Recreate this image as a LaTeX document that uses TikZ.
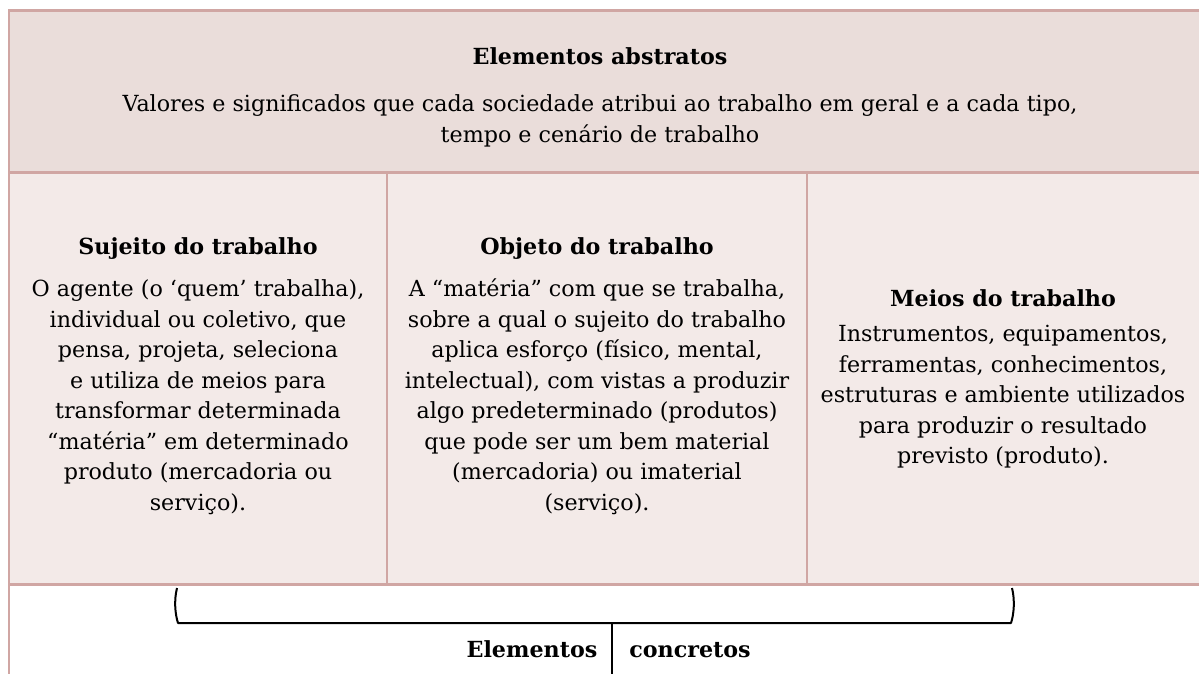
\documentclass[tikz,border=0pt]{standalone}
\usepackage{fontspec}
\setmainfont{DejaVu Serif}
\definecolor{hdrfill}{RGB}{234,221,218}
\definecolor{rowfill}{RGB}{243,234,232}
\definecolor{rose}{RGB}{208,166,163}
\begin{document}
\begin{tikzpicture}[x=1pt,y=-1pt,
  txt/.style={inner sep=0pt,align=center,font=\fontsize{22.2}{30.5}\selectfont},
  ttl/.style={inner sep=0pt,align=center,font=\fontsize{22.2}{30.5}\selectfont\bfseries},
  hline/.style={draw=rose,line width=3pt},
  vline/.style={draw=rose,line width=2pt}]
\useasboundingbox (0,0) rectangle (1199,674);
\fill[white] (0,0) rectangle (1199,674);
% fills
\fill[hdrfill] (9,11) rectangle (1199,172);
\fill[rowfill] (9,172) rectangle (1199,584);
% borders
\draw[vline] (9,10) -- (9,674);
\draw[vline] (387,172) -- (387,584);
\draw[vline] (807,172) -- (807,584);
\draw[hline] (8,11) -- (1199,11);
\draw[hline] (8,172) -- (1199,172);
\draw[hline] (8,584) -- (1199,584);
% header
\node[ttl,anchor=base] (abs) at (600,65) {Elementos abstratos};
\node[txt] (absbody) at (600,121) {Valores e significados que cada sociedade atribui ao trabalho em geral e a cada tipo,\\ tempo e cenário de trabalho};
% column 1
\node[ttl,anchor=base] (suj) at (198,254) {Sujeito do trabalho};
\node[txt] (sujbody) at (198,397) {O agente (o ‘quem’ trabalha),\\ individual ou coletivo, que\\ pensa, projeta, seleciona\\ e utiliza de meios para\\ transformar determinada\\ “matéria” em determinado\\ produto (mercadoria ou\\ serviço).};
% column 2
\node[ttl,anchor=base] (obj) at (597,254) {Objeto do trabalho};
\node[txt] (objbody) at (597,397) {A “matéria” com que se trabalha,\\ sobre a qual o sujeito do trabalho\\ aplica esforço (físico, mental,\\ intelectual), com vistas a produzir\\ algo predeterminado (produtos)\\ que pode ser um bem material\\ (mercadoria) ou imaterial\\ (serviço).};
% column 3
\node[ttl,anchor=base] (mei) at (1003,306) {Meios do trabalho};
\node[txt] (meibody) at (1003,397) {Instrumentos, equipamentos,\\ ferramentas, conhecimentos,\\ estruturas e ambiente utilizados\\ para produzir o resultado\\ previsto (produto).};
% bracket
\coordinate (bl) at (177,588);
\coordinate (br) at (1012,588);
\coordinate (mid) at (612,623);
\coordinate (stemend) at (612,674);
\draw[black,line width=2pt,line join=round]
  (bl) .. controls (174,600) and (175,614) .. (178,623) -- (1011,623)
  .. controls (1014,614) and (1015,600) .. (br);
\draw[black,line width=2pt] (mid) -- (stemend);
\node[ttl,anchor=base] (el) at (532,657) {Elementos};
\node[ttl,anchor=base] (co) at (690,657) {concretos};
\end{tikzpicture}
\end{document}
